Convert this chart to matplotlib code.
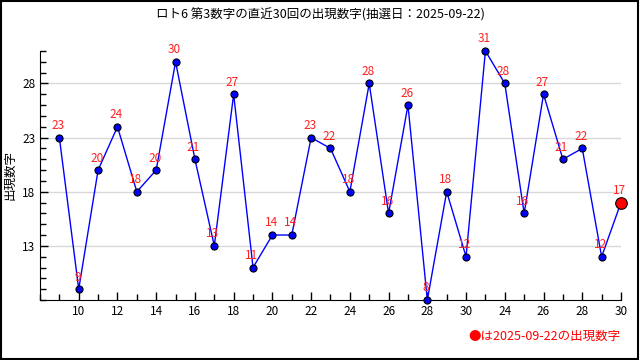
import matplotlib
matplotlib.use('Agg')
import matplotlib.pyplot as plt
from matplotlib.ticker import MultipleLocator, FixedLocator, FixedFormatter
from matplotlib.patches import Rectangle

plt.rcParams['font.family'] = ['Noto Sans CJK JP', 'DejaVu Sans']

# 直近30回の第3数字
values = [23, 9, 20, 24, 18, 20, 30, 21, 13, 27, 11, 14, 14, 23, 22,
          18, 28, 16, 26, 8, 18, 12, 31, 28, 16, 27, 21, 22, 12, 17]
draw_no = list(range(1, 31))
tick_pos = list(range(2, 31, 2))
tick_labels = ['10', '12', '14', '16', '18', '20', '22', '24', '26', '28',
               '30', '24', '26', '28', '30']
y_ticks = [13, 18, 23, 28]
title = 'ロト6 第3数字の直近30回の出現数字(抽選日：2025-09-22)'
note = '●は2025-09-22の出現数字'

fig = plt.figure(figsize=(6.4, 3.6), dpi=100)
ax = fig.add_axes([0.0625, 0.1667, 0.9078, 0.6917])

ax.plot(draw_no, values, color='#0000ff', lw=1, zorder=2)
ax.scatter(draw_no[:-1], values[:-1], s=26, color='#0000ff',
           edgecolors='black', linewidths=0.8, zorder=3, clip_on=False)
ax.scatter(draw_no[-1:], values[-1:], s=70, color='#ff0000',
           edgecolors='black', linewidths=0.8, zorder=4, clip_on=False)

for x, v in zip(draw_no, values):
    ax.annotate(str(v), (x, v), xytext=(-1, 4), textcoords='offset points',
                ha='center', va='bottom', color='#ff2020', fontsize=8.5)

ax.set_xlim(0, 30)
ax.set_ylim(8, 31)
ax.xaxis.set_major_locator(FixedLocator(tick_pos))
ax.xaxis.set_major_formatter(FixedFormatter(tick_labels))
ax.xaxis.set_minor_locator(MultipleLocator(1))
ax.yaxis.set_major_locator(FixedLocator(y_ticks))
ax.yaxis.set_minor_locator(MultipleLocator(1))
ax.tick_params(which='both', direction='in', labelsize=8.5, width=1)
ax.tick_params(which='major', length=6)
ax.tick_params(which='minor', length=4)
ax.grid(axis='y', which='major', color='#d8d8d8', lw=1)
ax.set_axisbelow(True)
for s in ['top', 'right']:
    ax.spines[s].set_visible(False)

ax.set_ylabel('出現数字', fontsize=9, labelpad=4)
fig.text(0.5, 0.958, title, ha='center', va='center', fontsize=9)
fig.text(0.97, 0.066, note, ha='right', va='center', fontsize=9, color='#ff0000')

fig.add_artist(Rectangle((0.002, 0.003), 0.995, 0.994, transform=fig.transFigure,
                         fill=False, edgecolor='black', lw=1.5))

fig.savefig('out.png', dpi=100)
